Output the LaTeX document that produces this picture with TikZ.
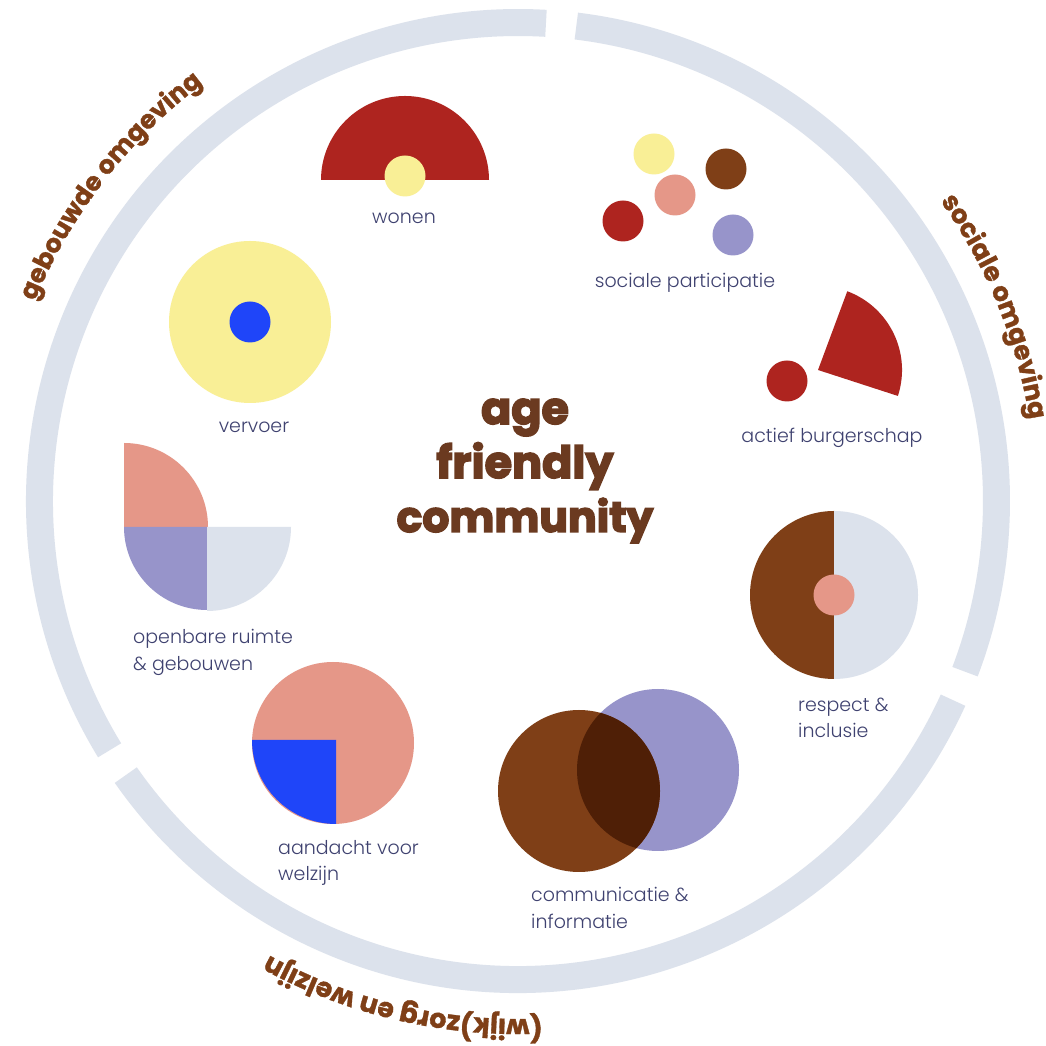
\documentclass[tikz,border=0pt]{standalone}
\usepackage{fontspec}
\usetikzlibrary{decorations.text}
\setmainfont{Poppins Light}
\newfontfamily\fatfont{Poppins}[UprightFont=* Bold,FakeBold=3.5]
\newfontfamily\ringfont{Poppins}[UprightFont=* Bold,FakeBold=1.2]
\definecolor{ringc}{HTML}{DCE2EC}
\definecolor{redc}{HTML}{AE241F}
\definecolor{yelc}{HTML}{F9EF96}
\definecolor{brownc}{HTML}{7F3F17}
\definecolor{salmc}{HTML}{E59788}
\definecolor{purc}{HTML}{9794CA}
\definecolor{bluec}{HTML}{1F45F9}
\definecolor{darkc}{HTML}{4F1F06}
\definecolor{labc}{HTML}{3F4270}
\definecolor{titc}{HTML}{6B3A20}
\tikzset{
  ringseg/.style={draw=ringc,line width=27pt},
  lab/.style={text=labc,font=\fontsize{19}{22}\selectfont,inner sep=0pt,anchor=base},
  labl/.style={lab,anchor=base west},
  tit/.style={text=titc,font=\fontsize{44.5}{50}\fatfont,inner sep=0pt,anchor=base},
  ringtext/.style={decorate,decoration={text along path,text align=center,text color=brownc,text={#1}}}
}
\begin{document}
\begin{tikzpicture}[x=1pt,y=1pt]
\useasboundingbox (0,0) rectangle (1045,1046);
\fill[white] (0,0) rectangle (1045,1046);
\coordinate (c) at (518,545);
% ring
\draw[ringseg] (c)+(211.4:478.5) arc[start angle=211.4,end angle=86.65,radius=478.5];
\draw[ringseg] (c)+(83:478.5) arc[start angle=83,end angle=-20.9,radius=478.5];
\draw[ringseg] (c)+(-24.6:478.5) arc[start angle=-24.6,end angle=-145.05,radius=478.5];
% ring titles
\path[ringtext={|\fontsize{25.5}{30}\ringfont|gebouwde omgeving}] (c)+(165.5:523) arc[start angle=165.5,end angle=119.1,radius=523];
\path[ringtext={|\fontsize{26}{30}\ringfont|sociale omgeving}] (c)+(45:518) arc[start angle=45,end angle=-0.6,radius=518];
\path[ringtext={|\fontsize{27}{30}\ringfont|(wijk)zorg en welzijn}] (c)+(285:518) arc[start angle=285,end angle=229,radius=518];
% wonen
\fill[redc] (321,866) arc[start angle=180,end angle=0,radius=84] -- cycle;
\fill[yelc] (405,870) circle[radius=20.5];
% sociale participatie
\fill[yelc] (654,892) circle[radius=20.5];
\fill[brownc] (726,877) circle[radius=20.5];
\fill[salmc] (675,851) circle[radius=20.5];
\fill[redc] (623,825) circle[radius=20.5];
\fill[purc] (733,811) circle[radius=20.5];
% actief burgerschap
\fill[redc] (818,676) -- ++(69.6:84) arc[start angle=69.6,end angle=-18,radius=84] -- cycle;
\fill[redc] (787,665) circle[radius=20.5];
% vervoer
\fill[yelc] (250,724) circle[radius=81];
\fill[bluec] (250,724) circle[radius=20.5];
% openbare ruimte
\fill[salmc] (124,519) -- (124,603) arc[start angle=90,end angle=0,radius=84] -- cycle;
\fill[purc] (207,519) -- (124,519) arc[start angle=180,end angle=270,radius=83] -- cycle;
\fill[ringc] (207,519) -- (291,519) arc[start angle=0,end angle=-90,radius=84] -- cycle;
% aandacht
\fill[salmc] (333,303) circle[radius=81];
\fill[bluec] (336,306) -- (252,306) arc[start angle=180,end angle=270,radius=84] -- cycle;
% communicatie
\fill[purc] (658,276) circle[radius=81];
\fill[brownc] (579,255) circle[radius=81];
\begin{scope}
\clip (579,255) circle[radius=81];
\fill[darkc] (658,276) circle[radius=81];
\end{scope}
% respect
\fill[brownc] (834,535) arc[start angle=90,end angle=270,radius=84] -- cycle;
\fill[ringc] (834,535) arc[start angle=90,end angle=-90,radius=84] -- cycle;
\fill[salmc] (834,451) circle[radius=20.5];
% labels
\node[lab] (wonen) at (404,822) {wonen};
\node[lab] (socpart) at (685,758) {sociale participatie};
\node[lab] (actief) at (832,603) {actief burgerschap};
\node[lab] (vervoer) at (254,613) {vervoer};
\node[labl] (open1) at (133,402) {openbare ruimte};
\node[labl] (open2) at (133,375) {\& gebouwen};
\node[labl] (aand1) at (278,191) {aandacht voor};
\node[labl] (aand2) at (278,165) {welzijn};
\node[labl] (comm1) at (531,144) {communicatie \&};
\node[labl] (comm2) at (531,117) {informatie};
\node[labl] (resp1) at (798,334) {respect \&};
\node[labl] (resp2) at (798,308) {inclusie};
% title
\node[tit] (age) at (525,622) {age};
\node[tit] (friendly) at (525,568) {friendly};
\node[tit,font=\fontsize{42.5}{50}\fatfont] (community) at (525,514) {community};
\end{tikzpicture}
\end{document}
